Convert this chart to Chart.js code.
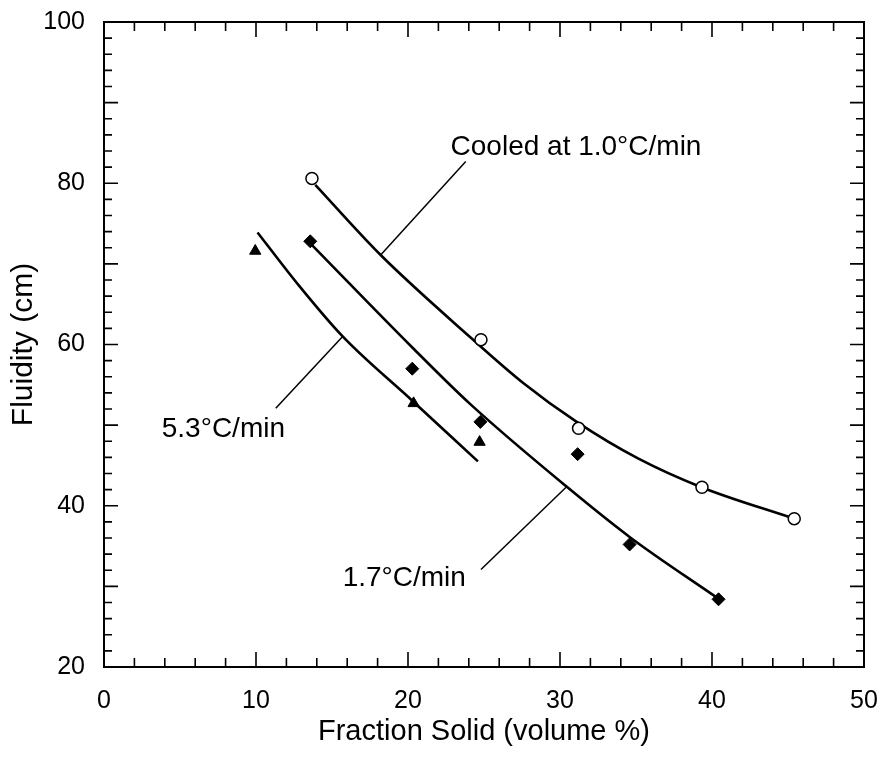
<!DOCTYPE html>
<html>
<head>
<meta charset="utf-8">
<script src="https://cdn.jsdelivr.net/npm/chart.js@4.4.0/dist/chart.umd.min.js"></script>
<style>
  html, body { margin: 0; padding: 0; background: #fff; }
  #wrap { width: 882px; height: 759px; }
</style>
</head>
<body>
<div id="wrap"><canvas id="fluidity" width="882" height="759"></canvas></div>
<script>
// tick labels
const xTickValues = [0, 10, 20, 30, 40, 50]
const yTickValues = [20, 40, 60, 80, 100]

// measured points (fraction solid %, fluidity cm)
const fraction10 = [13.68, 24.80, 31.22, 39.34, 45.41]
const fluidity10 = [80.6, 60.6, 49.6, 42.3, 38.4]
const fraction17 = [13.57, 20.28, 24.76, 31.16, 34.58, 40.43]
const fluidity17 = [72.8, 57.0, 50.4, 46.4, 35.2, 28.4]
const fraction53 = [9.95, 20.37, 24.71]
const fluidity53 = [71.6, 52.7, 47.9]

// fitted curves
const curve10X = [13.9, 18.2, 24.1, 27.6, 31.1, 35.1, 39.3, 45.4]
const curve10Y = [79.8, 71.1, 60.9, 55.2, 50.4, 45.9, 42.3, 38.4]
const curve17X = [13.7, 20.3, 24.1, 30.35, 34.6, 40.4]
const curve17Y = [72.3, 59.6, 52.6, 42.5, 36.1, 28.5]
const curve53X = [10.1, 12.7, 15.7, 20.3, 24.6]
const curve53Y = [73.9, 67.6, 61.0, 53.0, 45.5]

// curve labels and their leader lines (data units)
const labelText = ['Cooled at 1.0°C/min', '5.3°C/min', '1.7°C/min']
const labelX = [22.8, 3.8, 15.7]
const labelY = [83.5, 48.5, 30.05]
const leaderX = [[23.8, 18.2], [11.3, 15.7], [24.8, 30.4]]
const leaderY = [[82.7, 71.1], [52.1, 61.0], [32.1, 42.3]]

const FONT = "'Liberation Sans', Arial, Helvetica, sans-serif"

function toPoints(xs, ys) {
  return xs.map((x, i) => ({ x: x, y: ys[i] }))
}

function curve(xs, ys) {
  return {
    data: toPoints(xs, ys),
    showLine: true,
    borderColor: '#000',
    borderWidth: 2.6,
    pointRadius: 0,
    cubicInterpolationMode: 'monotone'
  }
}

// no extra room for edge labels, the layout padding handles it
function noEdgePadding(scale) {
  scale.paddingTop = 0
  scale.paddingBottom = 0
  scale.paddingLeft = 0
  scale.paddingRight = 0
}

// frame with inward ticks on all four sides
const frameTicks = {
  id: 'frameTicks',
  afterDatasetsDraw(chart) {
    const ctx = chart.ctx
    const a = chart.chartArea
    const xs = chart.scales.x
    const ys = chart.scales.y
    ctx.save()
    ctx.strokeStyle = '#000'
    ctx.lineWidth = 1.6
    ctx.beginPath()
    for (let v = 0; v <= 50; v += 2) {
      const px = xs.getPixelForValue(v)
      const len = v % 10 === 0 ? 15 : 9
      ctx.moveTo(px, a.bottom)
      ctx.lineTo(px, a.bottom - len)
      ctx.moveTo(px, a.top)
      ctx.lineTo(px, a.top + len)
    }
    for (let v = 20; v <= 100; v += 2) {
      const py = ys.getPixelForValue(v)
      const len = v % 10 === 0 ? 14 : 8
      ctx.moveTo(a.left, py)
      ctx.lineTo(a.left + len, py)
      ctx.moveTo(a.right, py)
      ctx.lineTo(a.right - len, py)
    }
    ctx.stroke()
    ctx.lineWidth = 2
    ctx.strokeRect(a.left, a.top, a.right - a.left, a.bottom - a.top)
    ctx.restore()
  }
}

// curve names
const curveLabels = {
  id: 'curveLabels',
  afterDraw(chart) {
    const ctx = chart.ctx
    const xs = chart.scales.x
    const ys = chart.scales.y
    ctx.save()
    ctx.fillStyle = '#000'
    ctx.font = '28px ' + FONT
    ctx.textAlign = 'left'
    ctx.textBaseline = 'alphabetic'
    labelText.forEach((t, i) => {
      ctx.fillText(t, xs.getPixelForValue(labelX[i]), ys.getPixelForValue(labelY[i]))
    })
    ctx.restore()
  }
}

const datasets = [
  {
    data: toPoints(fraction10, fluidity10),
    pointStyle: 'circle',
    pointRadius: 6,
    backgroundColor: '#fff',
    borderColor: '#000',
    borderWidth: 1.5
  },
  {
    data: toPoints(fraction17, fluidity17),
    pointStyle: 'rectRot',
    pointRadius: 6.5,
    backgroundColor: '#000',
    borderColor: '#000',
    borderWidth: 1
  },
  {
    data: toPoints(fraction53, fluidity53),
    pointStyle: 'triangle',
    pointRadius: 6.5,
    backgroundColor: '#000',
    borderColor: '#000',
    borderWidth: 1
  },
  curve(curve10X, curve10Y),
  curve(curve17X, curve17Y),
  curve(curve53X, curve53Y)
]

leaderX.forEach((lx, i) => {
  datasets.push({
    data: toPoints(lx, leaderY[i]),
    showLine: true,
    borderColor: '#000',
    borderWidth: 1.5,
    pointRadius: 0
  })
})

const ctx = document.getElementById('fluidity').getContext('2d')
const myChart = new Chart(ctx, {
  type: 'scatter',
  data: { datasets },
  options: {
    responsive: false,
    animation: false,
    devicePixelRatio: 1,
    layout: { padding: { left: 0, right: 18, top: 22, bottom: 0 } },
    plugins: {
      legend: { display: false },
      tooltip: { enabled: false }
    },
    scales: {
      x: {
        type: 'linear',
        min: 0,
        max: 50,
        afterFit(scale) {
          scale.height = 92
          noEdgePadding(scale)
        },
        afterBuildTicks(scale) { scale.ticks = xTickValues.map(v => ({ value: v })) },
        grid: { display: false, drawTicks: false },
        border: { display: false },
        ticks: {
          color: '#000',
          padding: 19,
          maxRotation: 0,
          autoSkip: false,
          font: { family: FONT, size: 25 }
        },
        title: {
          display: true,
          text: 'Fraction Solid (volume %)',
          color: '#000',
          padding: { top: 0, bottom: 10 },
          font: { family: FONT, size: 29 }
        }
      },
      y: {
        type: 'linear',
        min: 20,
        max: 100,
        afterFit(scale) {
          scale.width = 104
          noEdgePadding(scale)
        },
        afterBuildTicks(scale) { scale.ticks = yTickValues.map(v => ({ value: v })) },
        grid: { display: false, drawTicks: false },
        border: { display: false },
        ticks: {
          color: '#000',
          padding: 19,
          autoSkip: false,
          font: { family: FONT, size: 25 }
        },
        title: {
          display: true,
          text: 'Fluidity (cm)',
          color: '#000',
          padding: { top: 6, bottom: 0 },
          font: { family: FONT, size: 30 }
        }
      }
    }
  },
  plugins: [frameTicks, curveLabels]
})
</script>
</body>
</html>
